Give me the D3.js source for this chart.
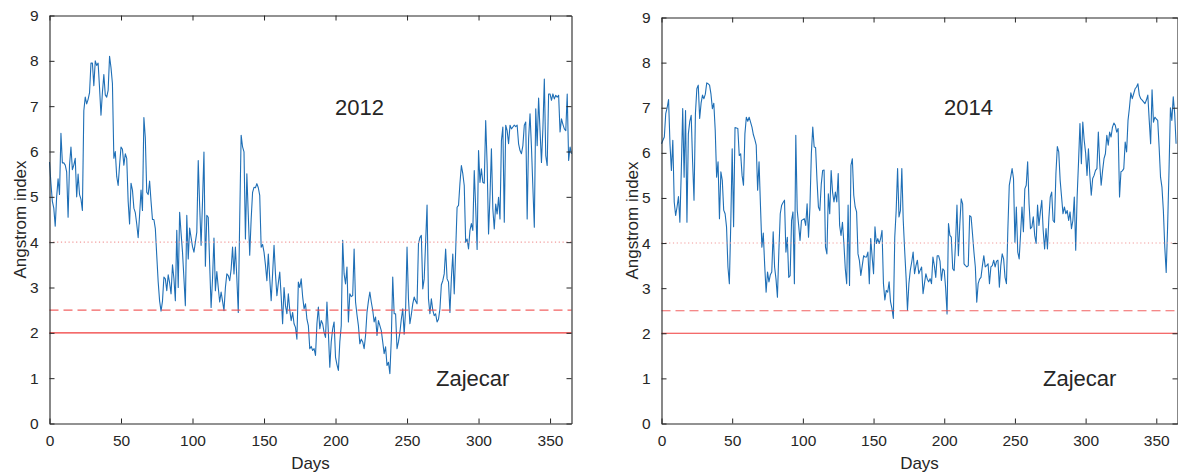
<!DOCTYPE html>
<html>
<head>
<meta charset="utf-8">
<script src="https://cdn.jsdelivr.net/npm/d3@7"></script>
<style>
  body { margin: 0; background: #fff; }
  text { font-family: "Liberation Sans", Arial, Helvetica, sans-serif; fill: #262626; }
</style>
</head>
<body>
<div class="chart"></div>
<script>
// daily angstrom index, index = day of year
const aod2012 = [
  5.77, 5.3, 4.9, 4.75, 4.35, 5.0, 5.4, 5.05, 6.4, 5.75,
  5.75, 5.7, 5.55, 4.55, 5.7, 6.1, 5.6, 5.7, 5.85, 5.0,
  5.5, 5.05, 4.95, 4.7, 6.9, 7.2, 7.05, 7.15, 7.3, 7.95,
  7.95, 7.45, 8.0, 7.9, 7.95, 7.4, 6.8, 7.3, 7.7, 7.25,
  7.2, 7.35, 8.1, 7.85, 7.5, 5.85, 6.0, 5.45, 5.25, 5.7,
  6.1, 6.05, 5.7, 5.95, 5.85, 4.9, 4.4, 5.3, 5.15, 4.75,
  4.65, 4.4, 4.1, 4.6, 5.15, 4.7, 6.75, 6.3, 5.1, 5.05,
  5.35, 4.9, 4.5, 4.5, 4.3, 3.7, 3.12, 2.7, 2.48, 2.7,
  3.23, 3.19, 2.93, 3.28, 3.1, 2.86, 3.5, 3.2, 2.71, 4.26,
  3.0, 4.66, 4.2, 3.78, 3.2, 2.6, 4.59, 3.63, 4.31, 4.1,
  3.9, 3.78, 4.0, 4.22, 5.8, 4.8, 3.93, 4.9, 5.99, 3.47,
  4.59, 4.55, 3.5, 2.56, 3.2, 4.09, 2.93, 3.35, 3.0, 2.68,
  2.9, 2.7, 2.49, 3.0, 3.3, 3.26, 3.15, 3.4, 3.89, 3.3,
  3.89, 3.2, 2.45, 4.5, 6.36, 6.1, 5.99, 4.07, 5.51, 4.6,
  3.71, 4.5, 5.1, 5.21, 5.2, 5.29, 5.2, 5.03, 3.89, 3.95,
  3.78, 3.5, 3.15, 3.74, 3.2, 2.71, 3.3, 3.93, 3.3, 2.82,
  3.1, 3.34, 2.8, 2.2, 3.0, 2.6, 2.42, 2.86, 2.5, 2.27,
  2.45, 2.2, 2.12, 1.86, 3.12, 3.0, 3.19, 2.8, 2.53, 2.64,
  2.3, 2.16, 1.65, 1.7, 1.61, 1.65, 1.5, 2.2, 2.57, 2.09,
  2.27, 2.2, 2.01, 1.9, 2.68, 2.0, 1.24, 1.8, 2.09, 2.24,
  1.46, 1.3, 1.17, 1.8, 2.16, 4.04, 3.3, 3.08, 3.45, 2.24,
  2.86, 2.8, 2.82, 3.85, 2.68, 2.4, 2.16, 1.76, 1.86, 1.8,
  1.65, 1.94, 2.45, 2.7, 2.9, 2.68, 2.5, 2.24, 2.35, 1.94,
  2.27, 2.16, 2.05, 1.8, 1.54, 1.69, 1.28, 1.35, 1.1, 1.86,
  3.23, 2.42, 2.42, 1.65, 1.8, 2.01, 2.3, 2.53, 1.97, 2.5,
  3.89, 2.75, 2.2, 2.4, 2.64, 2.79, 2.7, 2.64, 3.97, 4.1,
  4.15, 2.97, 3.19, 4.0, 4.82, 2.75, 2.42, 2.75, 2.5, 2.38,
  2.42, 2.24, 2.3, 2.53, 3.06, 3.15, 3.3, 3.85, 3.19, 3.12,
  2.45, 3.2, 3.74, 2.86, 3.8, 4.77, 4.81, 5.3, 5.69, 5.51,
  5.25, 4.0, 4.07, 3.85, 4.26, 4.41, 4.26, 5.58, 4.77, 3.84,
  6.02, 5.32, 5.62, 5.32, 5.3, 6.68, 5.73, 4.18, 5.0, 6.06,
  4.73, 4.29, 4.84, 4.62, 4.99, 4.51, 6.24, 6.54, 4.44, 6.58,
  6.46, 6.17, 6.58, 6.5, 6.54, 6.58, 6.55, 6.58, 6.17, 6.02,
  5.95, 6.13, 6.58, 6.65, 4.51, 6.28, 6.83, 6.1, 5.2, 4.33,
  6.94, 6.13, 7.18, 6.46, 5.76, 6.5, 7.6, 5.91, 5.69, 7.27,
  7.27, 7.13, 7.27, 7.16, 7.24, 7.2, 7.24, 6.43, 6.72, 6.6,
  6.5, 6.46, 7.27, 5.8, 6.1, 5.95
];

const aod2014 = [
  6.2, 6.28, 6.35, 6.87, 7.0, 7.18, 6.2, 5.61, 6.28, 4.91,
  4.61, 4.8, 5.03, 4.46, 5.6, 6.98, 5.46, 6.94, 4.46, 6.42,
  6.7, 6.83, 5.8, 4.95, 6.87, 7.42, 7.5, 6.76, 7.1, 7.28,
  7.2, 7.3, 7.55, 7.53, 7.5, 7.3, 6.98, 7.1, 6.5, 5.46,
  5.8, 4.54, 5.58, 5.39, 4.73, 4.65, 4.36, 3.47, 3.1, 4.43,
  6.09, 4.36, 6.56, 6.55, 6.54, 5.94, 5.98, 5.5, 5.28, 6.42,
  6.79, 6.7, 6.79, 6.68, 6.57, 6.4, 6.3, 6.17, 5.17, 5.8,
  4.84, 3.91, 4.22, 3.5, 2.91, 3.36, 3.14, 3.3, 3.36, 4.25,
  3.47, 3.2, 2.8, 3.8, 4.65, 4.84, 4.9, 4.95, 3.8, 4.13,
  3.24, 3.28, 4.5, 4.69, 3.1, 6.39, 4.73, 4.4, 4.06, 4.5,
  4.52, 4.54, 4.39, 4.87, 4.13, 4.8, 5.98, 6.57, 6.13, 6.12,
  5.39, 4.8, 4.72, 5.3, 5.61, 5.62, 3.91, 3.76, 5.09, 4.65,
  5.61, 5.13, 4.91, 5.13, 4.91, 5.54, 4.39, 4.17, 4.46, 4.0,
  3.43, 3.1, 4.84, 3.06, 5.72, 5.87, 5.06, 4.8, 4.69, 3.76,
  3.61, 3.28, 3.5, 3.72, 3.69, 3.69, 3.8, 3.1, 4.1, 3.7,
  3.32, 4.36, 3.99, 4.1, 3.99, 4.1, 4.28, 3.1, 2.74, 2.95,
  2.91, 3.14, 2.7, 2.55, 2.33, 4.13, 4.72, 5.65, 4.58, 4.72,
  5.65, 4.5, 3.84, 3.24, 2.51, 3.1, 3.4, 3.58, 3.8, 3.32,
  3.5, 3.62, 3.32, 3.4, 3.47, 2.88, 3.1, 3.32, 3.2, 3.14,
  3.21, 3.1, 3.69, 3.5, 3.24, 3.72, 3.72, 3.6, 3.17, 3.43,
  3.39, 3.0, 2.43, 4.43, 4.17, 4.13, 3.43, 3.39, 4.0, 4.84,
  3.72, 4.4, 4.98, 4.87, 3.54, 3.5, 3.47, 3.5, 4.61, 4.58,
  4.2, 3.8, 3.47, 2.69, 3.1, 3.2, 3.24, 3.5, 3.72, 3.47,
  3.5, 3.54, 3.1, 3.47, 3.5, 3.62, 3.47, 3.6, 3.62, 3.02,
  3.5, 3.76, 3.65, 3.24, 3.1, 4.3, 5.28, 5.46, 5.65, 5.43,
  4.02, 4.8, 3.8, 3.65, 4.2, 4.8, 4.25, 5.2, 5.28, 5.8,
  4.87, 4.32, 4.36, 4.58, 4.17, 3.99, 4.84, 4.39, 4.69, 4.95,
  4.28, 3.87, 4.32, 3.87, 4.54, 5.02, 5.13, 4.5, 4.46, 5.54,
  6.14, 6.02, 5.39, 5.02, 4.65, 4.8, 4.65, 4.72, 4.5, 4.69,
  4.32, 4.5, 5.02, 3.84, 5.02, 5.8, 6.65, 5.76, 6.68, 6.28,
  6.0, 5.5, 6.09, 5.5, 5.06, 5.43, 5.5, 5.61, 5.65, 6.46,
  5.76, 5.28, 5.6, 5.87, 5.98, 6.39, 6.17, 6.46, 6.35, 6.57,
  6.66, 6.61, 6.46, 6.54, 5.02, 5.58, 5.6, 5.65, 6.24, 6.02,
  6.72, 7.0, 7.33, 7.2, 7.31, 7.42, 7.46, 7.53, 7.28, 7.2,
  7.17, 7.13, 7.09, 7.17, 7.28, 6.72, 6.2, 7.4, 6.68, 6.79,
  6.75, 6.72, 6.13, 5.46, 5.24, 4.72, 3.91, 3.35, 4.36, 5.61,
  7.0, 6.72, 7.24, 6.87, 6.2
];

// axis ticks and labels
const xTicks = [0, 50, 100, 150, 200, 250, 300, 350];
const yTicks = [0, 1, 2, 3, 4, 5, 6, 7, 8, 9];
const xDomain = [0, 365];
const yDomain = [0, 9];
const xLabel = "Days";
const yLabel = "Angstrom index";
const years = ["2012", "2014"];
const station = "Zajecar";

// reference levels: solid, dashed, dotted
const refLevels = [2, 2.5, 4];

// chart constants
const WIDTH = 1178;
const HEIGHT = 475;
const BLUE = "#1f6fb6";
const AXIS = "#262626";

const SVG = d3
  .select(".chart")
  .append("svg")
  .attr("width", WIDTH)
  .attr("height", HEIGHT);

// panel boxes in page pixels
const panels = [
  { left: 49.5, right: 571.5, top: 15.5, bottom: 423.5, values: aod2012, year: years[0],
    yearX: 335, stationX: 436, yLabX: 26 },
  { left: 661.5, right: 1177.5, top: 17.5, bottom: 423.5, values: aod2014, year: years[1],
    yearX: 944, stationX: 1043, yLabX: 638 }
];

const refStyles = [
  { color: "#f03a3a", dash: null, opacity: 1 },
  { color: "#f04848", dash: "9,5", opacity: 0.85 },
  { color: "#f29a9a", dash: "1.2,2.6", opacity: 1 }
];

function drawPanel(p) {
  const x = d3.scaleLinear().domain(xDomain).range([p.left, p.right]);
  const y = d3.scaleLinear().domain(yDomain).range([p.bottom, p.top]);
  const g = SVG.append("g");

  // blue daily series
  const line = d3
    .line()
    .x((d, i) => x(i))
    .y((d) => y(d));
  g.append("path")
    .datum(p.values)
    .attr("fill", "none")
    .attr("stroke", BLUE)
    .attr("stroke-width", 1.1)
    .attr("stroke-linejoin", "round")
    .attr("d", line);

  // red threshold lines
  refLevels.forEach((lv, i) => {
    g.append("line")
      .attr("x1", p.left)
      .attr("x2", p.right)
      .attr("y1", y(lv))
      .attr("y2", y(lv))
      .attr("stroke", refStyles[i].color)
      .attr("stroke-opacity", refStyles[i].opacity)
      .attr("stroke-width", 1.1)
      .attr("stroke-dasharray", refStyles[i].dash);
  });

  // axes, ticks drawn inward on all four sides
  const bottom = d3.axisBottom(x).tickValues(xTicks).tickSizeInner(-5).tickSizeOuter(0).tickPadding(11);
  const top = d3.axisTop(x).tickValues(xTicks).tickSizeInner(-5).tickSizeOuter(0).tickFormat("");
  const left = d3.axisLeft(y).tickValues(yTicks).tickSizeInner(-5).tickSizeOuter(0).tickPadding(11);
  const right = d3.axisRight(y).tickValues(yTicks).tickSizeInner(-5).tickSizeOuter(0).tickFormat("");

  g.append("g").attr("transform", `translate(0,${p.bottom})`).call(bottom);
  g.append("g").attr("transform", `translate(0,${p.top})`).call(top);
  g.append("g").attr("transform", `translate(${p.left},0)`).call(left);
  g.append("g").attr("transform", `translate(${p.right},0)`).call(right);

  g.selectAll(".domain").attr("stroke", AXIS).attr("stroke-width", 1.1);
  g.selectAll(".tick line").attr("stroke", AXIS);
  g.selectAll(".tick text")
    .style("font-size", "15.5px")
    .attr("fill", AXIS);

  // axis titles
  g.append("text")
    .attr("x", (p.left + p.right) / 2)
    .attr("y", 469)
    .attr("text-anchor", "middle")
    .style("font-size", "17px")
    .text(xLabel);
  g.append("text")
    .attr("transform", `translate(${p.yLabX},${(p.top + p.bottom) / 2}) rotate(-90)`)
    .attr("text-anchor", "middle")
    .style("font-size", "17px")
    .text(yLabel);

  // year and station annotations
  g.append("text")
    .attr("x", p.yearX)
    .attr("y", 115)
    .style("font-size", "22px")
    .attr("fill", "#222")
    .text(p.year);
  g.append("text")
    .attr("x", p.stationX)
    .attr("y", 386)
    .style("font-size", "22px")
    .attr("fill", "#222")
    .text(station);
}

panels.forEach(drawPanel);
</script>
</body>
</html>
